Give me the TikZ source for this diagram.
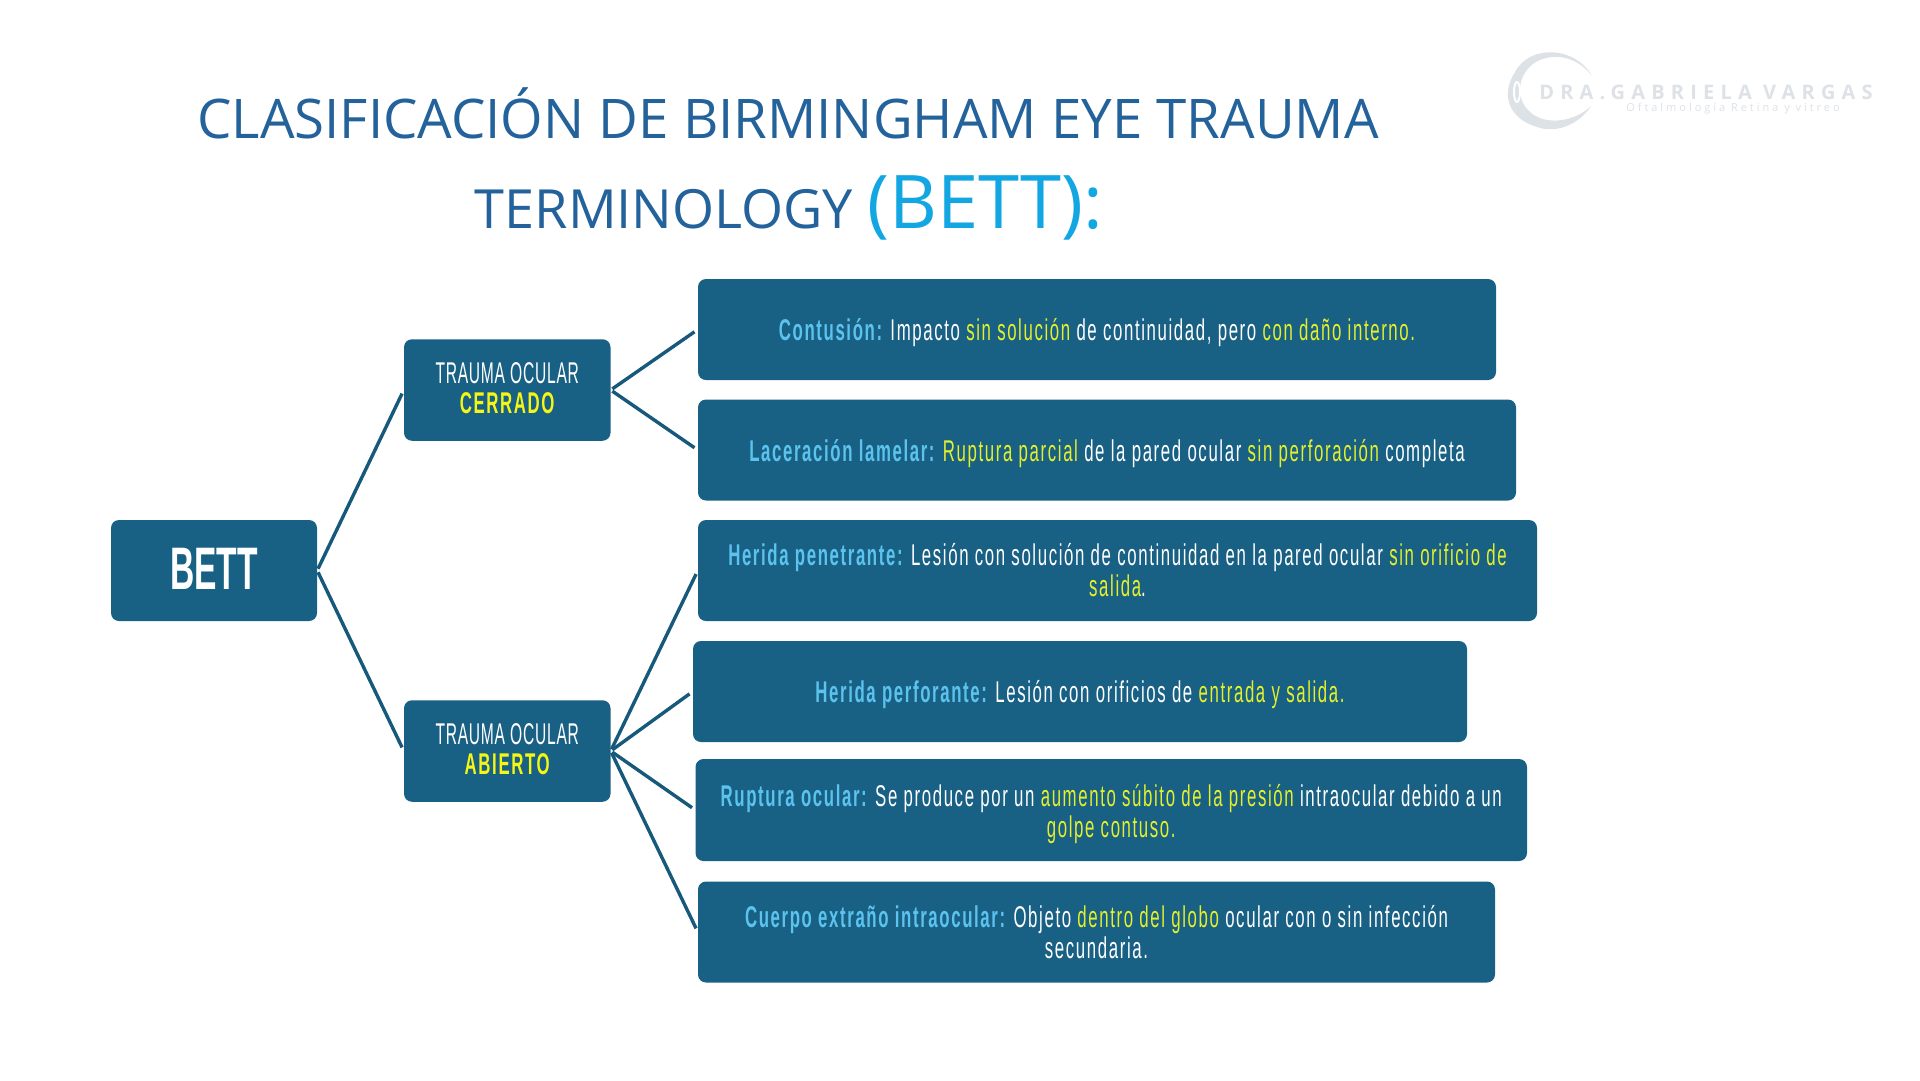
\documentclass[tikz,border=0pt]{standalone}
\usepackage{fontspec}
\setmainfont{Liberation Sans}
\newfontfamily\condf[FakeStretch=0.56,LetterSpace=5.4]{Liberation Sans}
\newfontfamily\condn[FakeStretch=0.52,LetterSpace=2.5]{Liberation Sans}
\newfontfamily\condb[FakeStretch=0.56]{Liberation Sans}
\newfontfamily\titlef{Open Sans}
\newfontfamily\logof[LetterSpace=31]{Open Sans}
\newfontfamily\logog[LetterSpace=27]{Open Sans}
\definecolor{boxc}{HTML}{186084}
\definecolor{linec}{HTML}{17597A}
\definecolor{yy}{HTML}{E4F02C}
\definecolor{yb}{HTML}{F5F516}
\definecolor{lb}{HTML}{5CC3EE}
\definecolor{titc}{HTML}{23629A}
\definecolor{titb}{HTML}{12A6E2}
\definecolor{logoc}{HTML}{DDE2E6}
\definecolor{logot}{HTML}{DEE2E6}
\newcommand{\yel}[1]{\textcolor{yy}{#1}}
\newcommand{\blu}[1]{\textcolor{lb}{\bfseries #1}}
\newcommand{\pushd}{\rule{0pt}{29pt}}
\newcommand{\pushu}{\rule[-3pt]{0pt}{3pt}}
\tikzset{
  box/.style={fill=boxc,draw=none,rounded corners=8pt,text=white,align=center,inner sep=0pt,
    font=\condf\fontsize{30}{31}\selectfont},
  link/.style={draw=linec,line width=3.4pt,shorten <=2pt,shorten >=4pt},
}
\begin{document}
\begin{tikzpicture}[x=1pt,y=-1pt]
\useasboundingbox (0,0) rectangle (1920,1080);
\fill[white] (0,0) rectangle (1920,1080);
% title
\node[anchor=base,font=\titlef\fontsize{54.6}{60}\selectfont,text=titc] (t1) at (788,138.5) {CLASIFICACIÓN DE BIRMINGHAM EYE TRAUMA};
\node[anchor=base,font=\titlef\fontsize{54}{60}\selectfont,text=titc] (t2) at (789,228) {TERMINOLOGY \textcolor{titb}{\fontsize{74}{74}\selectfont (BETT):}};
% logo
\fill[logoc] (1592,76) .. controls (1575,46) and (1530,44) .. (1515,72) .. controls (1500,95) and (1508,122) .. (1545,129) .. controls (1565,131) and (1582,120) .. (1591,106) .. controls (1575,122) and (1545,126) .. (1530,112) .. controls (1512,96) and (1520,68) .. (1540,60) .. controls (1560,52) and (1580,60) .. (1592,76) -- cycle;
\draw[white,line width=2pt] (1517,92) ellipse (3 and 10);
\node[anchor=center,font=\logof\bfseries\fontsize{20}{20}\selectfont,text=logot,inner sep=0pt] (logoA) at (1706,92) {DRA.GABRIELA VARGAS};
\node[anchor=center,font=\logog\fontsize{11}{11}\selectfont,text=logot,inner sep=0pt] (logoB) at (1733,109) {Oftalmología Retina y vitreo};
% nodes
\node[box,minimum width=206pt,minimum height=101pt,font=\condb\bfseries\fontsize{60}{60}\selectfont] (bett) at (214,570.5) {\raisebox{2.5pt}{BETT}};
\node[box,minimum width=206.5pt,minimum height=101.5pt] (cer) at (507.25,390) {{\condn TRAUMA OCULAR}\\[-1pt]\textcolor{yb}{\bfseries CERRADO}\pushu};
\node[box,minimum width=206.5pt,minimum height=101.5pt] (abi) at (507.25,751) {{\condn TRAUMA OCULAR}\\[-1pt]\textcolor{yb}{\bfseries ABIERTO}\pushu};
\node[box,minimum width=798pt,minimum height=101pt] (n1) at (1097,329.5) {\pushd\blu{Contusión:} Impacto \yel{sin solución} de continuidad, pero \yel{con daño interno.}};
\node[box,minimum width=818pt,minimum height=101pt] (n2) at (1107,450) {\pushd\blu{Laceración lamelar:} \yel{Ruptura parcial} de la pared ocular \yel{sin perforación} completa};
\node[box,minimum width=839pt,minimum height=101pt] (n3) at (1117.5,570.5) {\blu{Herida penetrante:} Lesión con solución de continuidad en la pared ocular \yel{sin orificio de}\\\yel{salida}.};
\node[box,minimum width=774pt,minimum height=101pt] (n4) at (1080,691.5) {\pushd\blu{Herida perforante:} Lesión con orificios de \yel{entrada y salida.}};
\node[box,minimum width=831.5pt,minimum height=102pt] (n5) at (1111.25,810) {\rule{0pt}{30pt}\blu{Ruptura ocular:} Se produce por un \yel{aumento súbito de la presión} intraocular debido a un\\\yel{golpe contuso.}};
\node[box,minimum width=797pt,minimum height=101pt] (n6) at (1096.5,932) {\blu{Cuerpo extraño intraocular:} Objeto \yel{dentro del globo} ocular con o sin infección\\secundaria.};
% connectors
\draw[link] (bett.east) -- (cer.west);
\draw[link] (bett.east) -- (abi.west);
\draw[link] (cer.east) -- (n1.west);
\draw[link] (cer.east) -- (n2.west);
\draw[link] (abi.east) -- (n3.west);
\draw[link] (abi.east) -- (n4.west);
\draw[link] (abi.east) -- (n5.west);
\draw[link] (abi.east) -- (n6.west);
\end{tikzpicture}
\end{document}
